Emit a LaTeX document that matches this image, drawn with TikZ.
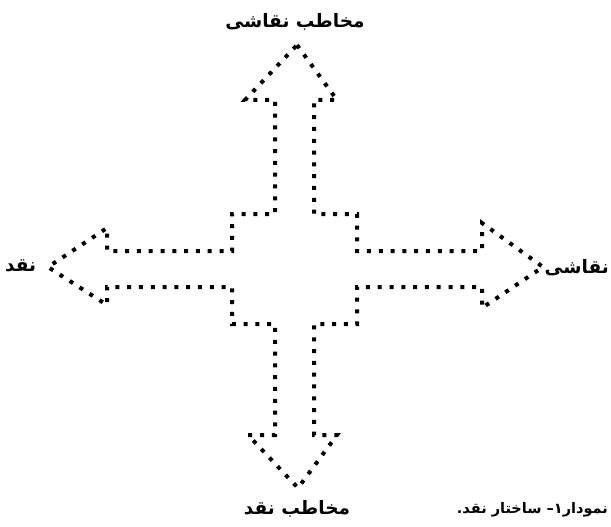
\documentclass[tikz,border=0pt]{standalone}
\usepackage{fontspec}
\setmainfont{DejaVu Sans}
\newfontfamily\arabicfont[Script=Arabic]{DejaVu Sans}
\TeXXeTstate=1
\begin{document}
\begin{tikzpicture}[x=1pt,y=-1pt,
  dotline/.style={line width=4pt, dash pattern=on 4pt off 7.8pt, line join=miter},
  lbl/.style={font=\arabicfont\bfseries\fontsize{18.5}{22}\selectfont, inner sep=0pt},
  captext/.style={font=\arabicfont\bfseries\fontsize{14.5}{17}\selectfont, inner sep=0pt}]
\useasboundingbox (0,0) rectangle (611,527);
\fill[white] (0,0) rectangle (611,527);
% tips
\coordinate (tipN) at (297,45);
\coordinate (tipE) at (543,267);
\coordinate (tipS) at (298,488);
\coordinate (tipW) at (48,267);
\draw[dotline] (tipN) -- (337,100) -- (314,100) -- (314,214) -- (357,214) -- (357,251)
  -- (482,251) -- (482,223) -- (tipE) -- (482,308) -- (482,287) -- (357,287)
  -- (357,324) -- (314,324) -- (314,435) -- (337,435) -- (tipS) -- (248,435)
  -- (275,435) -- (275,324) -- (232,324) -- (232,287) -- (107,287) -- (107,305)
  -- (tipW) -- (107,228) -- (107,251) -- (232,251) -- (232,214) -- (275,214)
  -- (275,100) -- (245,100) -- cycle;
\node[lbl] (lblN) at (295,22) {\beginR مخاطب نقاشی\endR};
\node[lbl, anchor=west] (lblW) at (5,266) {\beginR نقد\endR};
\node[lbl, anchor=east] (lblE) at (609,268) {\beginR نقاشی\endR};
\node[lbl] (lblS) at (297,509) {\beginR مخاطب نقد\endR};
\node[captext, anchor=east] (caption) at (608,510) {\beginR نمودار۱– ساختار نقد.\endR};
\end{tikzpicture}
\end{document}
